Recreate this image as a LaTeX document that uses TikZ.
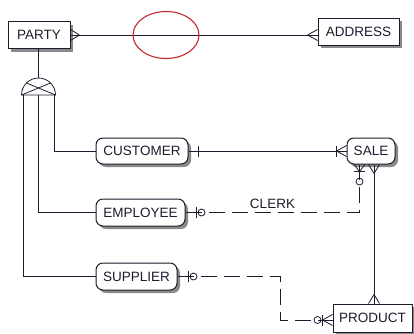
\documentclass[tikz,border=0pt]{standalone}
\usepackage{fontspec}
\setmainfont{Liberation Sans}
\usetikzlibrary{arrows.meta,positioning,calc,shapes.geometric,shadows,decorations.markings}
\definecolor{ink}{HTML}{1C1C2E}
\definecolor{shade}{HTML}{8A8A8A}
\definecolor{hiliteRed}{HTML}{C8282D}
\tikzset{
  entity/.style={draw=ink,line width=1pt,fill=white,inner sep=0pt,minimum height=27pt,
    text=ink,font=\fontsize{13.5pt}{15pt}\selectfont,
    drop shadow={shadow xshift=3pt,shadow yshift=-3pt,opacity=1,fill=shade}},
  kind/.style={entity,rounded corners=7pt},
  rel/.style={draw=ink,line width=0.8pt},
  opt/.style={rel,dash pattern=on 16pt off 7pt},
  lbl/.style={text=ink,inner sep=2pt,font=\fontsize{13.5pt}{15pt}\selectfont},
  hilite/.style={ellipse,draw=hiliteRed,line width=1.1pt,minimum width=66pt,minimum height=47pt},
  crowS/.style={postaction={decorate,decoration={markings,mark=at position #1 with
    {\draw[solid] (0,0) -- (-#1,5.5pt) (0,0) -- (-#1,-5.5pt);}}}},
  crowE/.style={postaction={decorate,decoration={markings,mark=at position -#1 with
    {\draw[solid] (0,0) -- (#1,5.5pt) (0,0) -- (#1,-5.5pt);}}}},
  barS/.style={postaction={decorate,decoration={markings,mark=at position #1 with
    {\draw[solid] (0,-5.5pt) -- (0,5.5pt);}}}},
  barE/.style={postaction={decorate,decoration={markings,mark=at position -#1 with
    {\draw[solid] (0,-5.5pt) -- (0,5.5pt);}}}},
  ringS/.style={postaction={decorate,decoration={markings,mark=at position #1 with
    {\draw[solid] (0,0) circle (3.5pt);}}}},
  ringE/.style={postaction={decorate,decoration={markings,mark=at position -#1 with
    {\draw[solid] (0,0) circle (3.5pt);}}}}
}

\begin{document}
\begin{tikzpicture}[x=1pt,y=-1pt]
 \useasboundingbox (0,0) rectangle (414,333);
 % entities
 \node[entity,minimum width=62pt] (party) at (39,35) {PARTY};
 \node[entity,minimum width=81pt] (address) at (358.5,31.5) {ADDRESS};
 \node[kind,minimum width=92pt,minimum height=26pt] (customer) at (142,151) {CUSTOMER};
 \node[kind,minimum width=89pt] (employee) at (140.5,212.5) {EMPLOYEE};
 \node[kind,minimum width=81pt] (supplier) at (136.5,276.5) {SUPPLIER};
 \node[kind,minimum width=48pt,minimum height=26pt] (sale) at (371,151) {SALE};
 \node[entity,minimum width=79pt,minimum height=28pt,drop shadow={opacity=0}] (product) at (372.5,318) {PRODUCT};

 % subtype symbol
 \coordinate (gen) at (38.5,95);
 \coordinate (genL) at ($(gen)+(-15.5,0)$);
 \coordinate (genM) at (gen);
 \coordinate (genR) at ($(gen)+(15.5,0)$);
 \draw[rel] ($(gen)+(-17,0)$) arc[start angle=180,end angle=0,radius=17pt] -- cycle;
 \draw[rel] ($(gen)+(-12,-12)$) -- ($(gen)+(17,0)$)
            ($(gen)+(12,-12)$) -- ($(gen)+(-17,0)$);
 \draw[rel] (party.south -| gen) -- ($(gen)+(0,-17)$);
 \draw[rel] (genR) |- (customer.west);
 \draw[rel] (genM) |- (employee.west);
 \draw[rel] (genL) |- (supplier.west);

 % relationships
 \coordinate (clerkturn) at (359.5,212.5);
 \coordinate (spine) at (374,0);
 \coordinate (bendA) at (280,276.5);
 \coordinate (bendB) at (280,320);
 \draw[rel,crowS=9pt,crowE=10pt] (party.east) -- (address.west |- party.east);
 \draw[rel,barS=10pt,barE=10pt,crowE=10pt] (customer.east) -- (sale.west |- customer.east);
 \draw[opt,barS=11pt,ringS=16pt,crowE=7pt,barE=7pt,ringE=17pt] (employee.east)
   -- node[lbl,above=1pt] (clerk) {CLERK} (clerkturn) -- (clerkturn |- sale.south);
 \draw[rel,crowS=9pt,crowE=9pt] (sale.south -| spine) -- (product.north -| spine);
 \draw[opt,barS=11pt,ringS=16pt,crowE=10pt,barE=10pt,ringE=15pt] (supplier.east)
   -- (bendA) -- (bendB) -- (product.west |- bendB);

 \node[hilite] (mark) at (166,35) {};
\end{tikzpicture}
\end{document}
